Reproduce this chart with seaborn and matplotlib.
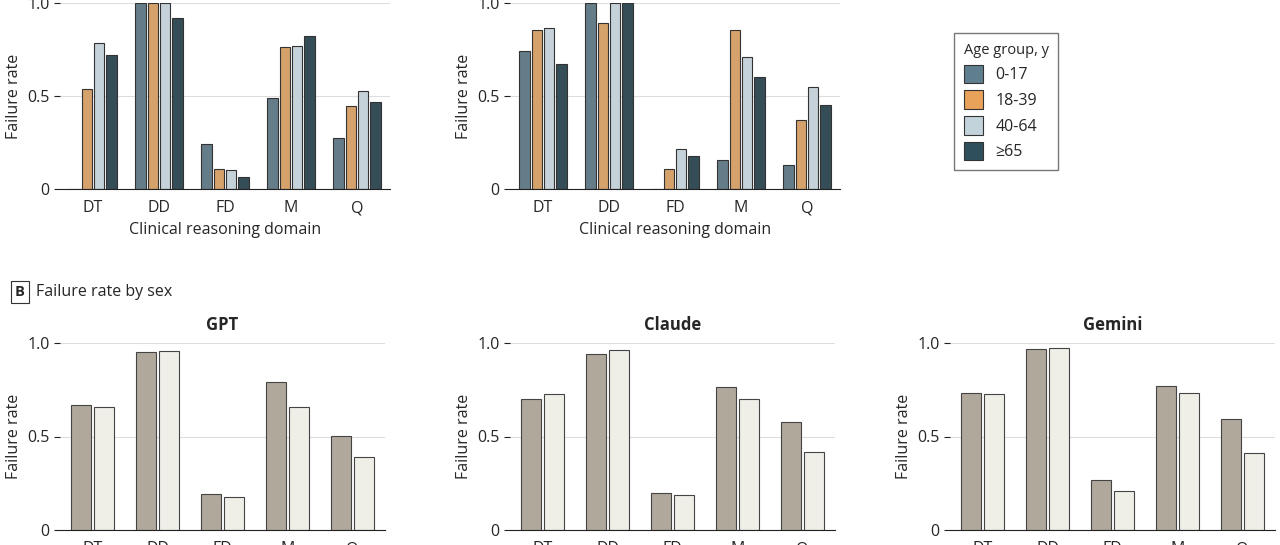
import matplotlib
matplotlib.use('agg')
import matplotlib.pyplot as plt
import seaborn as sns
import pandas as pd
from matplotlib.patches import Patch

sns.set_style('white')
plt.rcParams['font.family'] = ['Open Sans', 'DejaVu Sans']

domains = ['DT', 'DD', 'FD', 'M', 'Q']
age_groups = ['0-17', '18-39', '40-64', '≥65']
age_colors = ['#5f7f8f', '#e8a25a', '#c3d3dc', '#2f4f5c']
sexes = ['Male', 'Female']
sex_colors = ['#b5a898', '#f0efe6']

# age panels (top row), one list per domain: 0-17, 18-39, 40-64, >=65
age_left = [[0.0, 0.535, 0.785, 0.72],
            [1.0, 1.0, 1.0, 0.92],
            [0.24, 0.105, 0.10, 0.065],
            [0.49, 0.765, 0.77, 0.825],
            [0.275, 0.445, 0.525, 0.47]]
age_mid = [[0.74, 0.855, 0.865, 0.67],
           [1.0, 0.89, 1.0, 1.0],
           [0.0, 0.105, 0.215, 0.18],
           [0.155, 0.855, 0.71, 0.60],
           [0.13, 0.37, 0.55, 0.45]]

# sex panels (bottom row)
sex_gpt = [[0.67, 0.66], [0.95, 0.955], [0.19, 0.175], [0.79, 0.66], [0.505, 0.39]]
sex_claude = [[0.70, 0.725], [0.94, 0.96], [0.20, 0.185], [0.765, 0.70], [0.575, 0.415]]
sex_gemini = [[0.735, 0.725], [0.97, 0.975], [0.265, 0.21], [0.77, 0.735], [0.595, 0.41]]


def to_df(vals, groups):
    rows = []
    for d, row in zip(domains, vals):
        for g, v in zip(groups, row):
            rows.append({'domain': d, 'group': g, 'rate': v})
    return pd.DataFrame(rows)


def style_ax(ax, xlabel=True):
    ax.set_ylim(0, 1)
    ax.set_yticks([0, 0.5, 1.0])
    ax.set_yticklabels(['0', '0.5', '1.0'])
    ax.yaxis.grid(True, color='#dddddd', lw=0.8)
    ax.set_axisbelow(True)
    for s in ['top', 'right', 'left']:
        ax.spines[s].set_visible(False)
    ax.spines['bottom'].set_color('#222222')
    ax.tick_params(axis='y', length=4, color='#222222', labelsize=11.5, left=True)
    ax.tick_params(axis='x', length=0, labelsize=11.5, pad=8)
    ax.set_ylabel('Failure rate', fontsize=11.5)
    ax.set_xlabel('Clinical reasoning domain' if xlabel else '', fontsize=11.5)


fig = plt.figure(figsize=(12.8, 5.45), dpi=100)

tops = [(60, age_left), (510, age_mid)]
for x0, vals in tops:
    ax = fig.add_axes([x0 / 1280, 1 - 189 / 545, 330 / 1280, 186 / 545])
    sns.barplot(data=to_df(vals, age_groups), x='domain', y='rate', hue='group',
                palette=age_colors, width=0.75, gap=0.15, edgecolor='#333333',
                linewidth=0.8, legend=False, ax=ax)
    style_ax(ax)

bottoms = [(60, 'GPT', sex_gpt), (510, 'Claude', sex_claude), (950, 'Gemini', sex_gemini)]
for x0, title, vals in bottoms:
    ax = fig.add_axes([x0 / 1280, 1 - 530 / 545, 325 / 1280, 187 / 545])
    sns.barplot(data=to_df(vals, sexes), x='domain', y='rate', hue='group',
                palette=sex_colors, width=0.72, gap=0.12, edgecolor='#444444',
                linewidth=0.8, legend=False, ax=ax)
    style_ax(ax, xlabel=False)
    ax.set_title(title, fontsize=12, fontweight='bold', pad=9)

handles = [Patch(facecolor=c, edgecolor='#333333', lw=0.8) for c in age_colors]
fig.legend(handles, age_groups, title='Age group, y', loc='upper left',
           bbox_to_anchor=(946 / 1280, 1 - 25 / 545), frameon=True, fancybox=False,
           edgecolor='#555555', fontsize=11.5, title_fontsize=10.5, handlelength=1.2,
           handleheight=1.4, labelspacing=0.45, alignment='left', borderpad=0.6)

fig.text(20 / 1280, 1 - 292 / 545, 'B', fontsize=10.5, fontweight='bold', ha='center',
         va='center', bbox=dict(boxstyle='square,pad=0.3', fc='white', ec='#333333', lw=0.8))
fig.text(36 / 1280, 1 - 292 / 545, 'Failure rate by sex', fontsize=11.5, va='center')

fig.savefig('out.png', dpi=100)
